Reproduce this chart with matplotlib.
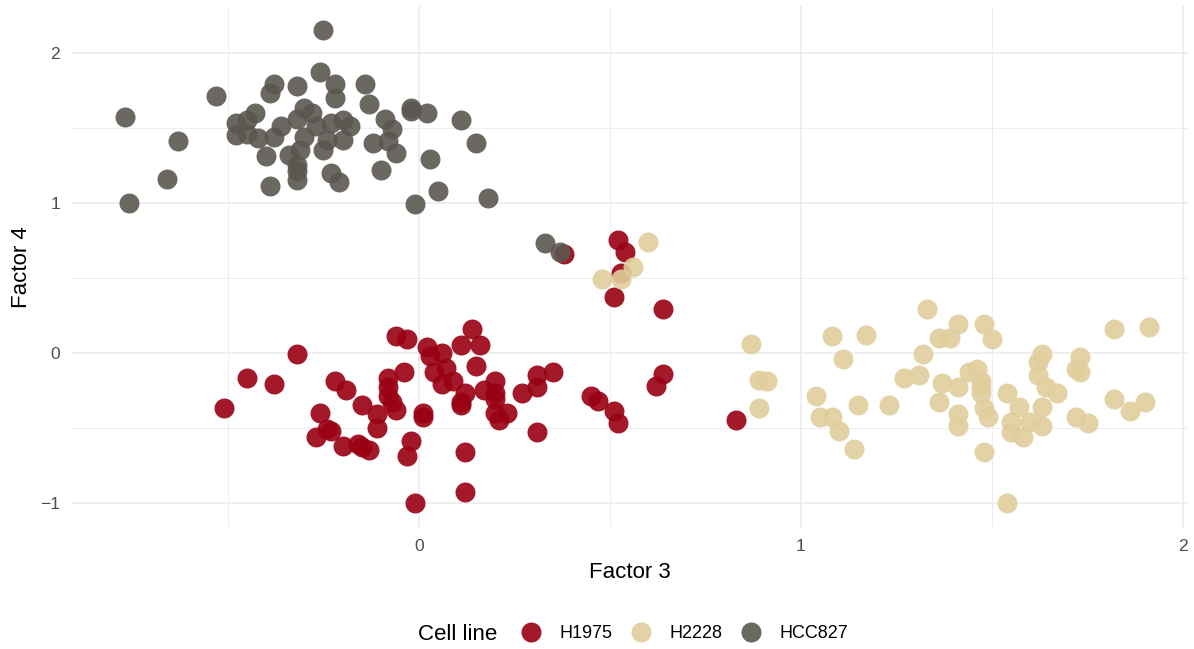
import numpy as np
import matplotlib
matplotlib.use('Agg')
import matplotlib.pyplot as plt
from matplotlib.lines import Line2D

# factor scores per cell line
h1975_x = [0.38, 0.52, 0.54, 0.53, 0.51, 0.64, 0.64, 0.62, 0.45, 0.47, 0.51, 0.52,
           0.35, 0.31, 0.31, 0.27, 0.31, 0.14, 0.11, 0.16, 0.15, -0.06, -0.03, 0.02,
           0.03, 0.06, 0.07, 0.04, 0.06, 0.09, 0.12, 0.11, 0.11, 0.17, 0.20, 0.20,
           0.20, 0.20, 0.23, 0.21, 0.12, 0.12, -0.01, -0.32, -0.45, -0.38, -0.51,
           -0.22, -0.19, -0.15, -0.26, -0.27, -0.24, -0.23, -0.20, -0.16, -0.15,
           -0.13, -0.11, -0.11, -0.08, -0.08, -0.08, -0.07, -0.06, -0.04, 0.01,
           0.01, -0.02, -0.03, 0.83]
h1975_y = [0.66, 0.75, 0.67, 0.53, 0.37, 0.29, -0.14, -0.22, -0.29, -0.32, -0.39, -0.47,
           -0.13, -0.15, -0.23, -0.27, -0.53, 0.16, 0.05, 0.05, -0.09, 0.11, 0.09, 0.04,
           -0.02, 0.00, -0.10, -0.13, -0.21, -0.19, -0.27, -0.33, -0.35, -0.25, -0.19,
           -0.27, -0.31, -0.40, -0.40, -0.45, -0.66, -0.93, -1.00, -0.01, -0.17, -0.21,
           -0.37, -0.19, -0.25, -0.35, -0.40, -0.56, -0.51, -0.52, -0.62, -0.61, -0.63,
           -0.65, -0.41, -0.50, -0.17, -0.23, -0.29, -0.33, -0.38, -0.13, -0.40,
           -0.43, -0.59, -0.69, -0.45]

h2228_x = [0.60, 0.56, 0.48, 0.53, 1.33, 0.87, 0.89, 0.91, 0.89, 1.08, 1.17, 1.11,
           1.04, 1.05, 1.08, 1.10, 1.14, 1.15, 1.23, 1.27, 1.31, 1.32, 1.36, 1.39,
           1.41, 1.48, 1.50, 1.37, 1.41, 1.36, 1.44, 1.46, 1.47, 1.47, 1.47, 1.41,
           1.41, 1.48, 1.49, 1.48, 1.54, 1.57, 1.55, 1.55, 1.58, 1.60, 1.63, 1.63,
           1.63, 1.62, 1.62, 1.64, 1.67, 1.73, 1.72, 1.73, 1.72, 1.75, 1.82, 1.86,
           1.90, 1.82, 1.91, 1.54]
h2228_y = [0.74, 0.57, 0.49, 0.49, 0.29, 0.06, -0.18, -0.19, -0.37, 0.11, 0.12, -0.04,
           -0.29, -0.43, -0.43, -0.52, -0.64, -0.35, -0.35, -0.17, -0.15, -0.01, 0.10, 0.10,
           0.19, 0.19, 0.09, -0.20, -0.23, -0.33, -0.13, -0.11, -0.19, -0.23, -0.27, -0.41,
           -0.49, -0.37, -0.43, -0.66, -0.27, -0.36, -0.46, -0.53, -0.56, -0.46, -0.36, -0.49,
           -0.01, -0.06, -0.15, -0.23, -0.27, -0.03, -0.11, -0.13, -0.43, -0.47, -0.31, -0.39,
           -0.33, 0.16, 0.17, -1.00]

hcc827_x = [-0.25, -0.26, -0.38, -0.39, -0.32, -0.22, -0.22, -0.14, -0.13, -0.53, -0.77,
            -0.63, -0.66, -0.76, -0.43, -0.45, -0.48, -0.48, -0.45, -0.42, -0.38, -0.36,
            -0.32, -0.30, -0.28, -0.27, -0.30, -0.31, -0.34, -0.40, -0.25, -0.24, -0.23,
            -0.20, -0.18, -0.20, -0.32, -0.32, -0.32, -0.39, -0.23, -0.21, -0.09, -0.07,
            -0.12, -0.08, -0.06, -0.10, -0.02, -0.02, 0.02, 0.11, 0.15, 0.03, 0.05, 0.18,
            -0.01, 0.33, 0.37]
hcc827_y = [2.15, 1.87, 1.79, 1.73, 1.78, 1.79, 1.70, 1.79, 1.66, 1.71, 1.57,
            1.41, 1.16, 1.00, 1.60, 1.55, 1.53, 1.45, 1.46, 1.43, 1.44, 1.51,
            1.56, 1.63, 1.60, 1.51, 1.44, 1.35, 1.32, 1.31, 1.35, 1.42, 1.53,
            1.55, 1.51, 1.42, 1.25, 1.21, 1.15, 1.11, 1.20, 1.14, 1.56, 1.49,
            1.40, 1.41, 1.33, 1.22, 1.63, 1.61, 1.60, 1.55, 1.40, 1.29, 1.08, 1.03,
            0.99, 0.73, 0.67]

groups = ['H1975', 'H2228', 'HCC827']
colors = ['#990013', '#E0CE9C', '#5B5750']

fig = plt.figure(figsize=(11.94, 6.49), dpi=100)
ax = fig.add_axes([0.0603, 0.188, 0.9347, 0.802])

data = [(h1975_x, h1975_y), (h2228_x, h2228_y), (hcc827_x, hcc827_y)]
for (xs, ys), c in zip(data, colors):
    ax.scatter(xs, ys, s=207, color=c, alpha=0.9, linewidths=0, zorder=3)

ax.set_xlim(-0.908, 2.013)
ax.set_ylim(-1.16, 2.31)
ax.set_xticks([0, 1, 2])
ax.set_yticks([-1, 0, 1, 2])
ax.set_yticklabels(['\u22121', '0', '1', '2'])
ax.set_xticks([-0.5, 0.5, 1.5], minor=True)
ax.set_yticks([-0.5, 0.5, 1.5], minor=True)
ax.grid(which='major', color='#EBEBEB', linewidth=1.1, zorder=0)
ax.grid(which='minor', color='#EBEBEB', linewidth=0.6, zorder=0)
ax.set_axisbelow(True)
for sp in ax.spines.values():
    sp.set_visible(False)
ax.tick_params(which='both', length=0, labelsize=12.6, labelcolor='#4D4D4D', pad=8.5)

font = 'Liberation Sans'
for lab in ax.get_xticklabels() + ax.get_yticklabels():
    lab.set_family(font)

ax.set_xlabel('Factor 3', fontsize=16, family=font, labelpad=6)
ax.set_ylabel('Factor 4', fontsize=16, family=font, labelpad=6)

handles = [Line2D([], [], marker='o', linestyle='none', markersize=14.4,
                  markerfacecolor=c, markeredgewidth=0, alpha=0.9) for c in colors]
fig.text(418 / 1194, 1 - 634 / 649, 'Cell line', fontsize=16, family=font,
         ha='left', va='center')
fig.legend(handles, groups, loc='center', bbox_to_anchor=(685 / 1194, 1 - 634 / 649),
           ncol=3, frameon=False, prop={'family': font, 'size': 13},
           handlelength=1.0, handletextpad=1.1, columnspacing=1.05, borderpad=0)

fig.savefig('out.png', dpi=100)
